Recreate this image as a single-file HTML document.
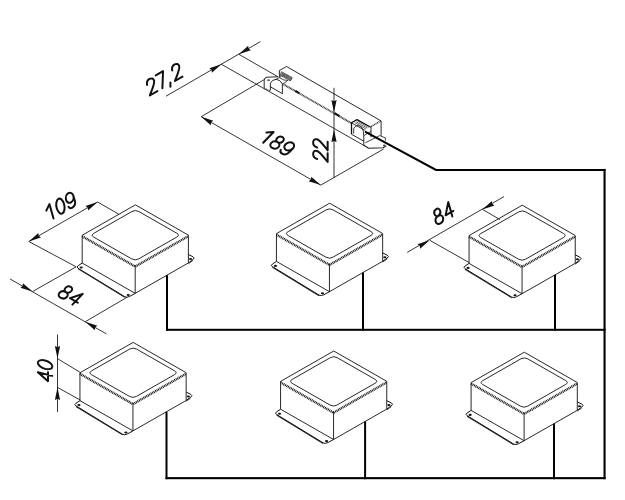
<!DOCTYPE html>
<html><head><meta charset="utf-8"><style>
html,body{margin:0;padding:0;background:#fff;}
svg{display:block;}
text{font-family:"Liberation Sans",sans-serif;font-style:normal;fill:#111;opacity:0.995;}
</style></head><body>
<svg width="625" height="500" viewBox="0 0 625 500">
<rect width="625" height="500" fill="#fff"/>
<path d="M131.91,211.54 Q135.38,209.55 138.86,211.54 L176.70,233.17 Q180.17,235.16 176.70,237.14 L138.69,258.86 Q135.22,260.85 131.74,258.86 L93.90,237.23 Q90.43,235.24 93.90,233.26 Z" fill="none" stroke="#111" stroke-width="0.9" stroke-linejoin="round" />
<polyline points="82.20,235.25 135.40,204.85 188.40,235.15" fill="none" stroke="#111" stroke-width="0.9" stroke-linejoin="round" />
<line x1="82.20" y1="235.25" x2="82.20" y2="263.05" stroke="#111" stroke-width="0.9" />
<line x1="135.20" y1="265.55" x2="135.20" y2="293.35" stroke="#111" stroke-width="0.9" />
<line x1="188.40" y1="235.15" x2="188.40" y2="262.95" stroke="#111" stroke-width="0.9" />
<line x1="82.20" y1="263.05" x2="135.20" y2="293.35" stroke="#111" stroke-width="0.9" />
<line x1="135.20" y1="293.35" x2="188.40" y2="262.95" stroke="#111" stroke-width="0.9" />
<polyline points="82.20,236.25 135.20,266.55 188.40,236.15" fill="none" stroke="#1a1a1a" stroke-width="2.4" stroke-linejoin="round" stroke-dasharray="1.0 0.7"/>
<path d="M82.20,263.05 L78.24,265.65 Q76.10,267.05 78.13,268.29 L124.77,296.71 Q126.80,297.95 129.74,296.34 L135.20,293.35" fill="none" stroke="#111" stroke-width="1.0" stroke-linejoin="round" />
<line x1="78.23" y1="268.89" x2="124.87" y2="297.31" stroke="#222" stroke-width="1.1" />
<path d="M188.40,254.55 L192.95,256.76 Q195.40,257.95 192.95,259.70 L188.40,262.95" fill="none" stroke="#111" stroke-width="1.0" stroke-linejoin="round" />
<line x1="192.95" y1="260.50" x2="188.40" y2="263.75" stroke="#111" stroke-width="0.8" />
<ellipse cx="81.20" cy="267.55" rx="1.6" ry="1.05" fill="#111"/>
<ellipse cx="128.20" cy="294.95" rx="1.6" ry="1.05" fill="#111"/>
<ellipse cx="190.60" cy="258.95" rx="1.6" ry="1.05" fill="#111"/>
<rect x="166.00" y="275.18" width="2" height="55.62" fill="#000"/>
<path d="M326.16,209.89 Q329.63,207.90 333.11,209.89 L370.95,231.52 Q374.42,233.51 370.95,235.49 L332.94,257.21 Q329.47,259.20 325.99,257.21 L288.15,235.58 Q284.68,233.59 288.15,231.61 Z" fill="none" stroke="#111" stroke-width="0.9" stroke-linejoin="round" />
<polyline points="276.45,233.60 329.65,203.20 382.65,233.50" fill="none" stroke="#111" stroke-width="0.9" stroke-linejoin="round" />
<line x1="276.45" y1="233.60" x2="276.45" y2="261.40" stroke="#111" stroke-width="0.9" />
<line x1="329.45" y1="263.90" x2="329.45" y2="291.70" stroke="#111" stroke-width="0.9" />
<line x1="382.65" y1="233.50" x2="382.65" y2="261.30" stroke="#111" stroke-width="0.9" />
<line x1="276.45" y1="261.40" x2="329.45" y2="291.70" stroke="#111" stroke-width="0.9" />
<line x1="329.45" y1="291.70" x2="382.65" y2="261.30" stroke="#111" stroke-width="0.9" />
<polyline points="276.45,234.60 329.45,264.90 382.65,234.50" fill="none" stroke="#1a1a1a" stroke-width="2.4" stroke-linejoin="round" stroke-dasharray="1.0 0.7"/>
<path d="M276.45,261.40 L272.48,264.00 Q270.35,265.40 272.38,266.64 L319.02,295.06 Q321.05,296.30 323.99,294.69 L329.45,291.70" fill="none" stroke="#111" stroke-width="1.0" stroke-linejoin="round" />
<line x1="272.48" y1="267.24" x2="319.12" y2="295.66" stroke="#222" stroke-width="1.1" />
<path d="M382.65,252.90 L387.20,255.11 Q389.65,256.30 387.20,258.05 L382.65,261.30" fill="none" stroke="#111" stroke-width="1.0" stroke-linejoin="round" />
<line x1="387.20" y1="258.85" x2="382.65" y2="262.10" stroke="#111" stroke-width="0.8" />
<ellipse cx="275.45" cy="265.90" rx="1.6" ry="1.05" fill="#111"/>
<ellipse cx="322.45" cy="293.30" rx="1.6" ry="1.05" fill="#111"/>
<ellipse cx="384.85" cy="257.30" rx="1.6" ry="1.05" fill="#111"/>
<rect x="362.00" y="272.53" width="2" height="58.27" fill="#000"/>
<path d="M518.76,211.89 Q522.23,209.90 525.71,211.89 L563.55,233.52 Q567.02,235.51 563.55,237.49 L525.54,259.21 Q522.07,261.20 518.59,259.21 L480.75,237.58 Q477.28,235.59 480.75,233.61 Z" fill="none" stroke="#111" stroke-width="0.9" stroke-linejoin="round" />
<polyline points="469.05,235.60 522.25,205.20 575.25,235.50" fill="none" stroke="#111" stroke-width="0.9" stroke-linejoin="round" />
<line x1="469.05" y1="235.60" x2="469.05" y2="263.40" stroke="#111" stroke-width="0.9" />
<line x1="522.05" y1="265.90" x2="522.05" y2="293.70" stroke="#111" stroke-width="0.9" />
<line x1="575.25" y1="235.50" x2="575.25" y2="263.30" stroke="#111" stroke-width="0.9" />
<line x1="469.05" y1="263.40" x2="522.05" y2="293.70" stroke="#111" stroke-width="0.9" />
<line x1="522.05" y1="293.70" x2="575.25" y2="263.30" stroke="#111" stroke-width="0.9" />
<polyline points="469.05,236.60 522.05,266.90 575.25,236.50" fill="none" stroke="#1a1a1a" stroke-width="2.4" stroke-linejoin="round" stroke-dasharray="1.0 0.7"/>
<path d="M469.05,263.40 L465.08,266.00 Q462.95,267.40 464.98,268.64 L511.62,297.06 Q513.65,298.30 516.59,296.69 L522.05,293.70" fill="none" stroke="#111" stroke-width="1.0" stroke-linejoin="round" />
<line x1="465.08" y1="269.24" x2="511.72" y2="297.66" stroke="#222" stroke-width="1.1" />
<path d="M575.25,254.90 L579.80,257.11 Q582.25,258.30 579.80,260.05 L575.25,263.30" fill="none" stroke="#111" stroke-width="1.0" stroke-linejoin="round" />
<line x1="579.80" y1="260.85" x2="575.25" y2="264.10" stroke="#111" stroke-width="0.8" />
<ellipse cx="468.05" cy="267.90" rx="1.6" ry="1.05" fill="#111"/>
<ellipse cx="515.05" cy="295.30" rx="1.6" ry="1.05" fill="#111"/>
<ellipse cx="577.45" cy="259.30" rx="1.6" ry="1.05" fill="#111"/>
<rect x="554.00" y="274.87" width="2" height="55.93" fill="#000"/>
<path d="M129.66,349.09 Q133.13,347.10 136.61,349.09 L174.45,370.72 Q177.92,372.71 174.45,374.69 L136.44,396.41 Q132.97,398.40 129.49,396.41 L91.65,374.78 Q88.18,372.79 91.65,370.81 Z" fill="none" stroke="#111" stroke-width="0.9" stroke-linejoin="round" />
<polyline points="79.95,372.80 133.15,342.40 186.15,372.70" fill="none" stroke="#111" stroke-width="0.9" stroke-linejoin="round" />
<line x1="79.95" y1="372.80" x2="79.95" y2="400.60" stroke="#111" stroke-width="0.9" />
<line x1="132.95" y1="403.10" x2="132.95" y2="430.90" stroke="#111" stroke-width="0.9" />
<line x1="186.15" y1="372.70" x2="186.15" y2="400.50" stroke="#111" stroke-width="0.9" />
<line x1="79.95" y1="400.60" x2="132.95" y2="430.90" stroke="#111" stroke-width="0.9" />
<line x1="132.95" y1="430.90" x2="186.15" y2="400.50" stroke="#111" stroke-width="0.9" />
<polyline points="79.95,373.80 132.95,404.10 186.15,373.70" fill="none" stroke="#1a1a1a" stroke-width="2.4" stroke-linejoin="round" stroke-dasharray="1.0 0.7"/>
<path d="M79.95,400.60 L75.99,403.20 Q73.85,404.60 75.88,405.84 L122.52,434.26 Q124.55,435.50 127.49,433.89 L132.95,430.90" fill="none" stroke="#111" stroke-width="1.0" stroke-linejoin="round" />
<line x1="75.98" y1="406.44" x2="122.62" y2="434.86" stroke="#222" stroke-width="1.1" />
<path d="M186.15,392.10 L190.70,394.31 Q193.15,395.50 190.70,397.25 L186.15,400.50" fill="none" stroke="#111" stroke-width="1.0" stroke-linejoin="round" />
<line x1="190.70" y1="398.05" x2="186.15" y2="401.30" stroke="#111" stroke-width="0.8" />
<ellipse cx="78.95" cy="405.10" rx="1.6" ry="1.05" fill="#111"/>
<ellipse cx="125.95" cy="432.50" rx="1.6" ry="1.05" fill="#111"/>
<ellipse cx="188.35" cy="396.50" rx="1.6" ry="1.05" fill="#111"/>
<rect x="165.50" y="411.73" width="2" height="67.47" fill="#000"/>
<path d="M330.26,357.69 Q333.73,355.70 337.21,357.69 L375.05,379.32 Q378.52,381.31 375.05,383.29 L337.04,405.01 Q333.57,407.00 330.09,405.01 L292.25,383.38 Q288.78,381.39 292.25,379.41 Z" fill="none" stroke="#111" stroke-width="0.9" stroke-linejoin="round" />
<polyline points="280.55,381.40 333.75,351.00 386.75,381.30" fill="none" stroke="#111" stroke-width="0.9" stroke-linejoin="round" />
<line x1="280.55" y1="381.40" x2="280.55" y2="409.20" stroke="#111" stroke-width="0.9" />
<line x1="333.55" y1="411.70" x2="333.55" y2="439.50" stroke="#111" stroke-width="0.9" />
<line x1="386.75" y1="381.30" x2="386.75" y2="409.10" stroke="#111" stroke-width="0.9" />
<line x1="280.55" y1="409.20" x2="333.55" y2="439.50" stroke="#111" stroke-width="0.9" />
<line x1="333.55" y1="439.50" x2="386.75" y2="409.10" stroke="#111" stroke-width="0.9" />
<polyline points="280.55,382.40 333.55,412.70 386.75,382.30" fill="none" stroke="#1a1a1a" stroke-width="2.4" stroke-linejoin="round" stroke-dasharray="1.0 0.7"/>
<path d="M280.55,409.20 L276.58,411.80 Q274.45,413.20 276.48,414.44 L323.12,442.86 Q325.15,444.10 328.09,442.49 L333.55,439.50" fill="none" stroke="#111" stroke-width="1.0" stroke-linejoin="round" />
<line x1="276.58" y1="415.04" x2="323.22" y2="443.46" stroke="#222" stroke-width="1.1" />
<path d="M386.75,400.70 L391.30,402.91 Q393.75,404.10 391.30,405.85 L386.75,409.10" fill="none" stroke="#111" stroke-width="1.0" stroke-linejoin="round" />
<line x1="391.30" y1="406.65" x2="386.75" y2="409.90" stroke="#111" stroke-width="0.8" />
<ellipse cx="279.55" cy="413.70" rx="1.6" ry="1.05" fill="#111"/>
<ellipse cx="326.55" cy="441.10" rx="1.6" ry="1.05" fill="#111"/>
<ellipse cx="388.95" cy="405.10" rx="1.6" ry="1.05" fill="#111"/>
<rect x="364.10" y="421.47" width="2" height="57.73" fill="#000"/>
<path d="M520.81,358.89 Q524.28,356.90 527.76,358.89 L565.60,380.52 Q569.07,382.51 565.60,384.49 L527.59,406.21 Q524.12,408.20 520.64,406.21 L482.80,384.58 Q479.33,382.59 482.80,380.61 Z" fill="none" stroke="#111" stroke-width="0.9" stroke-linejoin="round" />
<polyline points="471.10,382.60 524.30,352.20 577.30,382.50" fill="none" stroke="#111" stroke-width="0.9" stroke-linejoin="round" />
<line x1="471.10" y1="382.60" x2="471.10" y2="410.40" stroke="#111" stroke-width="0.9" />
<line x1="524.10" y1="412.90" x2="524.10" y2="440.70" stroke="#111" stroke-width="0.9" />
<line x1="577.30" y1="382.50" x2="577.30" y2="410.30" stroke="#111" stroke-width="0.9" />
<line x1="471.10" y1="410.40" x2="524.10" y2="440.70" stroke="#111" stroke-width="0.9" />
<line x1="524.10" y1="440.70" x2="577.30" y2="410.30" stroke="#111" stroke-width="0.9" />
<polyline points="471.10,383.60 524.10,413.90 577.30,383.50" fill="none" stroke="#1a1a1a" stroke-width="2.4" stroke-linejoin="round" stroke-dasharray="1.0 0.7"/>
<path d="M471.10,410.40 L467.13,413.00 Q465.00,414.40 467.03,415.64 L513.67,444.06 Q515.70,445.30 518.64,443.69 L524.10,440.70" fill="none" stroke="#111" stroke-width="1.0" stroke-linejoin="round" />
<line x1="467.13" y1="416.24" x2="513.77" y2="444.66" stroke="#222" stroke-width="1.1" />
<path d="M577.30,401.90 L581.85,404.11 Q584.30,405.30 581.85,407.05 L577.30,410.30" fill="none" stroke="#111" stroke-width="1.0" stroke-linejoin="round" />
<line x1="581.85" y1="407.85" x2="577.30" y2="411.10" stroke="#111" stroke-width="0.8" />
<ellipse cx="470.10" cy="414.90" rx="1.6" ry="1.05" fill="#111"/>
<ellipse cx="517.10" cy="442.30" rx="1.6" ry="1.05" fill="#111"/>
<ellipse cx="579.50" cy="406.30" rx="1.6" ry="1.05" fill="#111"/>
<rect x="553.00" y="423.61" width="2" height="55.59" fill="#000"/>
<line x1="166.00" y1="96.20" x2="260.50" y2="41.60" stroke="#111" stroke-width="0.85" />
<polygon points="221.40,64.30 211.89,72.82 211.62,69.97 209.28,68.32" fill="#111"/>
<polygon points="238.70,54.20 248.22,45.70 248.49,48.55 250.82,50.20" fill="#111"/>
<line x1="238.70" y1="54.20" x2="278.00" y2="76.80" stroke="#111" stroke-width="0.85" />
<line x1="221.40" y1="64.30" x2="364.20" y2="145.60" stroke="#111" stroke-width="0.85" />
<line x1="201.20" y1="116.70" x2="264.20" y2="79.60" stroke="#111" stroke-width="0.85" />
<line x1="201.20" y1="116.70" x2="320.80" y2="185.10" stroke="#111" stroke-width="0.85" />
<polygon points="201.20,116.70 213.34,120.66 211.00,122.32 210.75,125.17" fill="#111"/>
<polygon points="320.80,185.10 308.66,181.16 310.99,179.49 311.24,176.64" fill="#111"/>
<line x1="320.80" y1="185.10" x2="383.60" y2="149.00" stroke="#111" stroke-width="0.85" />
<line x1="334.00" y1="87.80" x2="334.00" y2="178.00" stroke="#111" stroke-width="0.85" />
<polygon points="334.00,112.60 331.40,100.10 334.00,101.30 336.60,100.10" fill="#111"/>
<polygon points="334.00,129.60 336.60,142.10 334.00,140.90 331.40,142.10" fill="#111"/>
<polyline points="279.40,77.20 279.40,70.50 286.50,66.50 381.00,120.90" fill="none" stroke="#111" stroke-width="0.9" stroke-linejoin="round" />
<polyline points="283.60,84.40 351.40,123.20" fill="none" stroke="#2a2a2a" stroke-width="1.9" stroke-linejoin="round" stroke-dasharray="0.9 0.6"/>
<line x1="295.40" y1="90.90" x2="299.40" y2="93.20" stroke="#111" stroke-width="1.9" />
<line x1="334.50" y1="113.20" x2="339.60" y2="116.10" stroke="#111" stroke-width="1.9" />
<line x1="281.20" y1="71.60" x2="292.20" y2="77.60" stroke="#222" stroke-width="0.75" />
<line x1="280.75" y1="72.40" x2="291.75" y2="78.40" stroke="#222" stroke-width="0.75" />
<line x1="280.30" y1="73.20" x2="291.30" y2="79.20" stroke="#222" stroke-width="0.75" />
<line x1="279.85" y1="74.00" x2="290.85" y2="80.00" stroke="#222" stroke-width="0.75" />
<line x1="279.40" y1="74.80" x2="290.40" y2="80.80" stroke="#222" stroke-width="0.75" />
<line x1="292.20" y1="77.60" x2="290.40" y2="80.80" stroke="#111" stroke-width="0.8" />
<line x1="284.50" y1="73.40" x2="282.70" y2="76.60" stroke="#444" stroke-width="0.6" />
<line x1="287.80" y1="75.20" x2="286.00" y2="78.40" stroke="#444" stroke-width="0.6" />
<polyline points="279.40,77.60 283.50,79.80 288.20,80.60" fill="none" stroke="#111" stroke-width="0.8" stroke-linejoin="round" />
<path d="M264.2,88.4 L264.2,80.2 Q264.4,77.4 267,77.2 L278,76.8" fill="none" stroke="#111" stroke-width="0.9" stroke-linejoin="round" />
<path d="M270.4,90.4 L270.4,83.2 Q272,79.6 276.2,79.3 Q280.2,79.6 282.4,84.0 L282.4,93.7 L270.4,86.8" fill="none" stroke="#111" stroke-width="0.9" stroke-linejoin="round" />
<line x1="264.20" y1="88.40" x2="270.40" y2="91.20" stroke="#333" stroke-width="1.4" stroke-dasharray="1 0.7"/>
<line x1="276.20" y1="79.30" x2="281.20" y2="76.40" stroke="#111" stroke-width="0.8" />
<line x1="282.40" y1="84.00" x2="287.00" y2="81.40" stroke="#111" stroke-width="0.8" />
<ellipse cx="268.6" cy="80.2" rx="1.4" ry="0.9" fill="#555"/>
<polyline points="380.90,120.80 371.00,126.60" fill="none" stroke="#333" stroke-width="1.6" stroke-linejoin="round" stroke-dasharray="1 0.7"/>
<line x1="381.10" y1="120.80" x2="381.10" y2="135.80" stroke="#111" stroke-width="0.9" />
<line x1="371.00" y1="126.60" x2="371.00" y2="137.20" stroke="#111" stroke-width="0.9" />
<polyline points="351.50,134.10 351.50,122.80 357.00,119.60 370.80,127.20" fill="none" stroke="#111" stroke-width="1.3" stroke-linejoin="round" />
<line x1="351.20" y1="122.80" x2="365.40" y2="130.60" stroke="#111" stroke-width="0.8" />
<line x1="351.20" y1="134.10" x2="363.80" y2="141.20" stroke="#111" stroke-width="0.9" />
<line x1="363.80" y1="135.60" x2="363.80" y2="145.30" stroke="#111" stroke-width="0.9" />
<path d="M353.7,133.6 L353.7,128.2 Q355.5,125.2 358.6,125.4 Q362.4,126.6 363.4,131.2 L363.6,135.6" fill="none" stroke="#111" stroke-width="0.85" stroke-linejoin="round" />
<line x1="357.42" y1="121.09" x2="368.72" y2="127.33" stroke="#333" stroke-width="0.7" />
<line x1="356.07" y1="121.89" x2="367.37" y2="128.18" stroke="#333" stroke-width="0.7" />
<line x1="354.72" y1="122.69" x2="366.02" y2="129.03" stroke="#333" stroke-width="0.7" />
<line x1="363.80" y1="135.60" x2="371.00" y2="131.40" stroke="#111" stroke-width="0.8" />
<polyline points="363.80,145.30 368.60,148.20 383.00,147.80 386.20,146.00" fill="none" stroke="#222" stroke-width="1.1" stroke-linejoin="round" />
<polyline points="365.30,142.80 379.70,135.60 385.40,137.90 385.40,140.60" fill="none" stroke="#111" stroke-width="0.8" stroke-linejoin="round" />
<ellipse cx="384.3" cy="145.4" rx="1.3" ry="0.9" fill="#444"/>
<path d="M 0.020,0.720 C 0.030,0.920 0.160,1.000 0.300,1.000 C 0.460,1.000 0.580,0.900 0.580,0.730 C 0.580,0.560 0.460,0.460 0.000,0.000 L 0.600,0.000 M 0.800,1.000 L 1.380,1.000 L 1.000,0.000 M 1.660,0.060 L 1.580,-0.180 M 2.020,0.720 C 2.030,0.920 2.160,1.000 2.300,1.000 C 2.460,1.000 2.580,0.900 2.580,0.730 C 2.580,0.560 2.460,0.460 2.000,0.000 L 2.600,0.000" fill="none" stroke="#111" stroke-width="2.0" stroke-linecap="round" stroke-linejoin="round" vector-effect="non-scaling-stroke" transform="translate(164.10,78.90) rotate(-30) skewX(-14) scale(14.500,-14.500) translate(-1.300,-0.5)"/>
<path d="M 0.040,0.720 L 0.380,1.000 L 0.380,0.000 M 0.860,0.765 A 0.230,0.235 0 1 0 1.320,0.765 A 0.230,0.235 0 1 0 0.860,0.765 M 0.800,0.265 A 0.290,0.265 0 1 0 1.380,0.265 A 0.290,0.265 0 1 0 0.800,0.265 M 1.600,0.680 A 0.290,0.320 0 1 0 2.180,0.680 A 0.290,0.320 0 1 0 1.600,0.680 M 2.180,0.680 L 2.180,0.320 C 2.180,0.100 2.050,0.000 1.880,0.000 C 1.750,0.000 1.660,0.070 1.630,0.180" fill="none" stroke="#111" stroke-width="2.0" stroke-linecap="round" stroke-linejoin="round" vector-effect="non-scaling-stroke" transform="translate(277.30,142.50) rotate(30) skewX(-14) scale(14.500,-14.500) translate(-1.090,-0.5)"/>
<path d="M 0.020,0.720 C 0.030,0.920 0.160,1.000 0.300,1.000 C 0.460,1.000 0.580,0.900 0.580,0.730 C 0.580,0.560 0.460,0.460 0.000,0.000 L 0.600,0.000 M 0.820,0.720 C 0.830,0.920 0.960,1.000 1.100,1.000 C 1.260,1.000 1.380,0.900 1.380,0.730 C 1.380,0.560 1.260,0.460 0.800,0.000 L 1.400,0.000" fill="none" stroke="#111" stroke-width="2.0" stroke-linecap="round" stroke-linejoin="round" vector-effect="non-scaling-stroke" transform="translate(320.40,150.00) rotate(-90) skewX(-14) scale(14.500,-14.500) translate(-0.700,-0.5)"/>
<path d="M 0.440,0.000 L 0.440,1.000 L 0.000,0.300 L 0.620,0.300 M 0.800,0.500 A 0.290,0.500 0 1 0 1.380,0.500 A 0.290,0.500 0 1 0 0.800,0.500" fill="none" stroke="#111" stroke-width="2.0" stroke-linecap="round" stroke-linejoin="round" vector-effect="non-scaling-stroke" transform="translate(45.10,370.45) rotate(-90) skewX(-14) scale(14.500,-14.500) translate(-0.690,-0.5)"/>
<path d="M 0.040,0.720 L 0.380,1.000 L 0.380,0.000 M 0.800,0.500 A 0.290,0.500 0 1 0 1.380,0.500 A 0.290,0.500 0 1 0 0.800,0.500 M 1.600,0.680 A 0.290,0.320 0 1 0 2.180,0.680 A 0.290,0.320 0 1 0 1.600,0.680 M 2.180,0.680 L 2.180,0.320 C 2.180,0.100 2.050,0.000 1.880,0.000 C 1.750,0.000 1.660,0.070 1.630,0.180" fill="none" stroke="#111" stroke-width="2.0" stroke-linecap="round" stroke-linejoin="round" vector-effect="non-scaling-stroke" transform="translate(60.40,206.15) rotate(-30) skewX(-14) scale(14.500,-14.500) translate(-1.090,-0.5)"/>
<path d="M 0.060,0.765 A 0.230,0.235 0 1 0 0.520,0.765 A 0.230,0.235 0 1 0 0.060,0.765 M 0.000,0.265 A 0.290,0.265 0 1 0 0.580,0.265 A 0.290,0.265 0 1 0 0.000,0.265 M 1.240,0.000 L 1.240,1.000 L 0.800,0.300 L 1.420,0.300" fill="none" stroke="#111" stroke-width="2.0" stroke-linecap="round" stroke-linejoin="round" vector-effect="non-scaling-stroke" transform="translate(70.90,295.40) rotate(30) skewX(-14) scale(14.500,-14.500) translate(-0.710,-0.5)"/>
<path d="M 0.060,0.765 A 0.230,0.235 0 1 0 0.520,0.765 A 0.230,0.235 0 1 0 0.060,0.765 M 0.000,0.265 A 0.290,0.265 0 1 0 0.580,0.265 A 0.290,0.265 0 1 0 0.000,0.265 M 1.240,0.000 L 1.240,1.000 L 0.800,0.300 L 1.420,0.300" fill="none" stroke="#111" stroke-width="2.0" stroke-linecap="round" stroke-linejoin="round" vector-effect="non-scaling-stroke" transform="translate(443.65,213.15) rotate(-30) skewX(-14) scale(14.500,-14.500) translate(-0.710,-0.5)"/>
<line x1="28.80" y1="241.50" x2="97.60" y2="202.00" stroke="#111" stroke-width="0.85" />
<polygon points="28.80,241.50 38.34,233.01 38.59,235.86 40.93,237.52" fill="#111"/>
<polygon points="97.60,202.00 88.06,210.49 87.80,207.63 85.47,205.98" fill="#111"/>
<line x1="97.60" y1="202.00" x2="118.80" y2="214.20" stroke="#111" stroke-width="0.85" />
<line x1="28.80" y1="241.50" x2="76.10" y2="266.80" stroke="#111" stroke-width="0.85" />
<line x1="10.10" y1="279.00" x2="106.40" y2="333.90" stroke="#111" stroke-width="0.85" />
<polygon points="32.50,291.60 20.36,287.66 22.69,285.99 22.94,283.14" fill="#111"/>
<polygon points="85.30,321.70 97.45,325.64 95.11,327.30 94.87,330.15" fill="#111"/>
<line x1="32.50" y1="291.60" x2="76.10" y2="266.80" stroke="#111" stroke-width="0.85" />
<line x1="85.30" y1="321.70" x2="127.00" y2="297.30" stroke="#111" stroke-width="0.85" />
<line x1="407.20" y1="252.40" x2="504.00" y2="196.60" stroke="#111" stroke-width="0.85" />
<polygon points="429.60,240.20 420.07,248.70 419.81,245.84 417.47,244.19" fill="#111"/>
<polygon points="482.40,209.40 491.91,200.88 492.18,203.73 494.52,205.38" fill="#111"/>
<line x1="429.60" y1="240.20" x2="469.20" y2="262.60" stroke="#111" stroke-width="0.85" />
<line x1="482.40" y1="209.40" x2="500.00" y2="219.60" stroke="#111" stroke-width="0.85" />
<line x1="57.50" y1="334.50" x2="57.50" y2="412.00" stroke="#111" stroke-width="0.85" />
<polygon points="57.50,358.60 54.90,346.10 57.50,347.30 60.10,346.10" fill="#111"/>
<polygon points="57.50,387.40 60.10,399.90 57.50,398.70 54.90,399.90" fill="#111"/>
<line x1="57.50" y1="358.60" x2="80.50" y2="372.60" stroke="#111" stroke-width="0.85" />
<line x1="57.50" y1="387.40" x2="80.50" y2="400.20" stroke="#111" stroke-width="0.85" />
<rect x="166" y="328.8" width="439.6" height="2" fill="#000"/>
<rect x="165.5" y="477.1" width="440.1" height="2.1" fill="#000"/>
<rect x="603.5" y="168.9" width="2.1" height="310.3" fill="#000"/>
<polyline points="365,131.6 436,169.9 605.5,169.9" fill="none" stroke="#000" stroke-width="2"/>
</svg>
</body></html>
